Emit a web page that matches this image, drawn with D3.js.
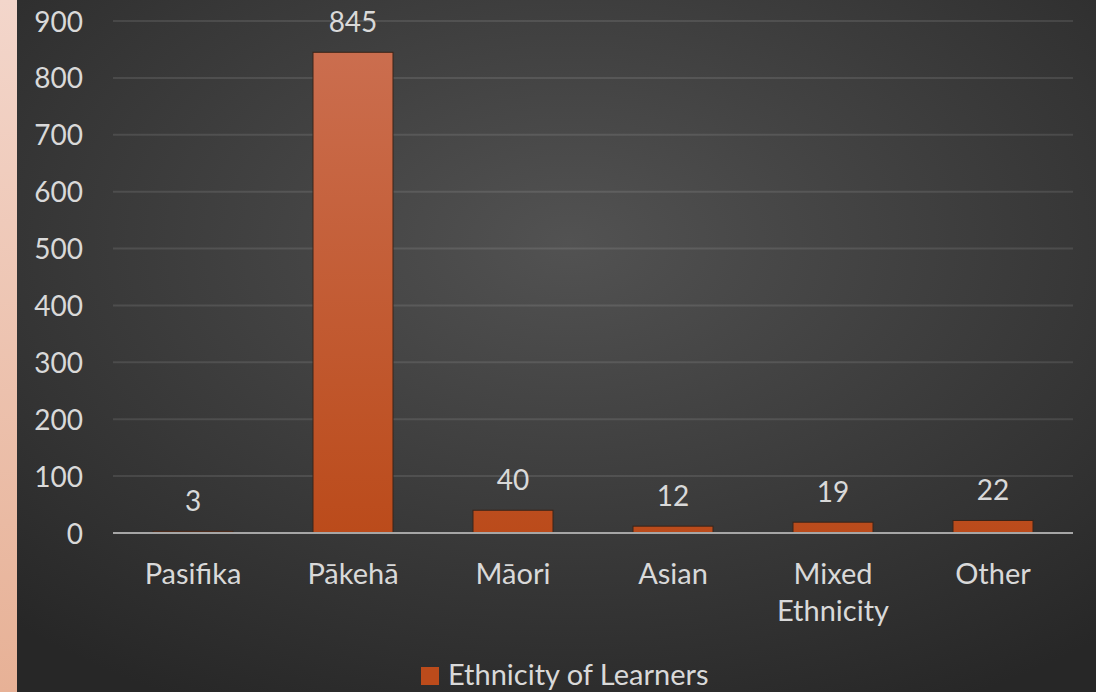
<!DOCTYPE html>
<html><head><meta charset="utf-8">
<script src="https://cdn.jsdelivr.net/npm/d3@7"></script>
<style>html,body{margin:0;padding:0;background:#2b2b2b;overflow:hidden}</style>
</head><body>
<svg id="c" width="1096" height="692"></svg>
<script>
const categories = [["Pasifika"], ["Pākehā"], ["Māori"], ["Asian"], ["Mixed", "Ethnicity"], ["Other"]];
const values = [3, 845, 40, 12, 19, 22];
const yTicks = [0, 100, 200, 300, 400, 500, 600, 700, 800, 900];
const seriesName = "Ethnicity of Learners";

const W = 1096, H = 692;
const svg = d3.select("#c");
const defs = svg.append("defs");
const bg = defs.append("radialGradient").attr("id","bg").attr("cx","0.52").attr("cy","0.35").attr("r","0.75");
bg.append("stop").attr("offset","0").attr("stop-color","#525252");
bg.append("stop").attr("offset","1").attr("stop-color","#272727");
const strip = defs.append("linearGradient").attr("id","strip").attr("x1",0).attr("y1",0).attr("x2",0).attr("y2",1);
strip.append("stop").attr("offset","0").attr("stop-color","#f3d6cb");
strip.append("stop").attr("offset","1").attr("stop-color","#e7b196");
const barG = defs.append("linearGradient").attr("id","bar").attr("gradientUnits","userSpaceOnUse")
  .attr("x1",0).attr("y1",20).attr("x2",0).attr("y2",533);
barG.append("stop").attr("offset","0").attr("stop-color","#cc7052");
barG.append("stop").attr("offset","1").attr("stop-color","#bb4b1b");

svg.append("rect").attr("width",W).attr("height",H).attr("fill","url(#bg)");
svg.append("rect").attr("width",17).attr("height",H).attr("fill","url(#strip)");

const font = "Lato, 'Open Sans', sans-serif";
const fs = 28, fsText = 29;
const txt = "#d9d9d9";
const x0 = 113, x1 = 1073;
const y = d3.scaleLinear().domain([0, 900]).range([533, 21]);
const x = d3.scaleBand().domain(d3.range(categories.length)).range([x0, x1]).paddingInner(0.5).paddingOuter(0.25);

// gridlines
svg.append("g").selectAll("line").data(yTicks.filter(d=>d>0)).join("line")
  .attr("x1",x0).attr("x2",x1).attr("y1",d=>y(d)).attr("y2",d=>y(d))
  .attr("stroke","#ffffff").attr("stroke-opacity",0.1).attr("stroke-width",2);

// y axis labels
const yAxis = d3.axisLeft(y).tickValues(yTicks).tickSize(0).tickPadding(0);
const ya = svg.append("g").attr("transform","translate(83,0)").call(yAxis);
ya.select(".domain").remove();
ya.selectAll("text").attr("fill",txt).attr("font-family",font).attr("font-size",fs).attr("dy","0.36em");

// bars
svg.append("g").selectAll("rect").data(values).join("rect")
  .attr("x",(d,i)=>x(i)).attr("width",x.bandwidth())
  .attr("y",d=>y(d)).attr("height",d=>y(0)-y(d))
  .attr("fill","url(#bar)").attr("stroke","#3a2418").attr("stroke-width",1);

// baseline
svg.append("line").attr("x1",x0).attr("x2",x1).attr("y1",y(0)).attr("y2",y(0))
  .attr("stroke","#a6a6a6").attr("stroke-width",2);

// value labels
svg.append("g").selectAll("text").data(values).join("text")
  .attr("x",(d,i)=>x(i)+x.bandwidth()/2).attr("y",d=>y(d)-20)
  .attr("text-anchor","middle").attr("fill",txt).attr("font-family",font).attr("font-size",fs)
  .text(d=>d);

// category labels
const cl = svg.append("g").selectAll("text").data(categories).join("text")
  .attr("x",(d,i)=>x(i)+x.bandwidth()/2).attr("y",584)
  .attr("text-anchor","middle").attr("fill",txt).attr("font-family",font).attr("font-size",fsText);
cl.selectAll("tspan").data(d=>d).join("tspan")
  .attr("x",function(){return d3.select(this.parentNode).attr("x");})
  .attr("dy",(d,i)=>i===0?0:37).text(d=>d);

// legend
svg.append("rect").attr("x",421).attr("y",667).attr("width",18).attr("height",18).attr("fill","url(#bar)");
svg.append("text").attr("x",448).attr("y",685).attr("fill",txt).attr("font-family",font).attr("font-size",fsText).text(seriesName);
</script>
</body></html>
